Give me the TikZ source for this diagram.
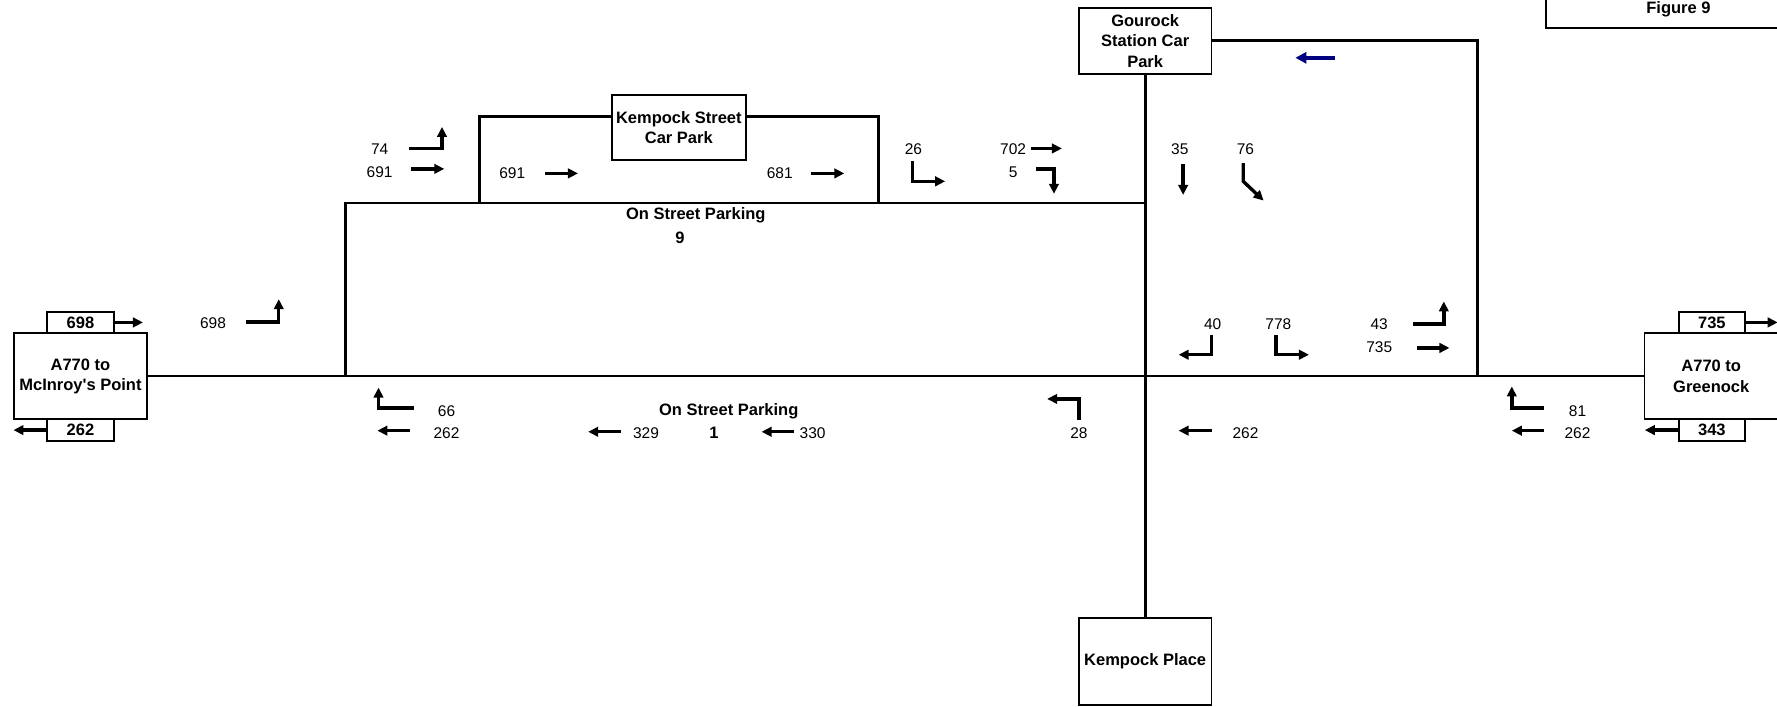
\documentclass[tikz,border=0pt]{standalone}
\usepackage{fontspec}
\setmainfont{Liberation Sans}[Ligatures=TeXOff]
\usetikzlibrary{arrows.meta}
\definecolor{navyarrow}{RGB}{0,0,128}
\begin{document}
\begin{tikzpicture}[x=1.1333pt,y=-1.1333pt,
  road/.style={line width=2.7pt},
  mainroad/.style={line width=2pt},
  box/.style={draw,line width=1.8pt,fill=white,font=\fontsize{16.5}{20.4}\selectfont\bfseries,align=center,inner sep=0pt},
  bigbox/.style={box,minimum width=133.7pt,minimum height=86.1pt},
  smallbox/.style={box,minimum width=66.5pt,minimum height=21.5pt},
  num/.style={font=\fontsize{15.5}{18}\selectfont,inner sep=0pt},
  lbl/.style={font=\fontsize{16.5}{20}\selectfont\bfseries,inner sep=0pt},
  mv/.style={line width=3.4pt,-{Triangle[length=10pt,width=9.5pt]}},
]
\useasboundingbox (0,0) rectangle (1568,623);
\clip (0,0) rectangle (1568,623);

% junction coordinates
\coordinate (jw) at (305,332);
\coordinate (jn) at (305,179);
\coordinate (jc) at (1010,179);
\coordinate (ka) at (423,179);
\coordinate (kb) at (423,103);
\coordinate (kc) at (775,103);
\coordinate (kd) at (775,179);
\coordinate (ga) at (1304,36);
\coordinate (gb) at (1304,332);

% roads
\draw[road] (jw) -- (jn) -- (jc);
\draw[road] (ka) -- (kb) -- (kc) -- (kd);

% boxes
\node[bigbox] (L) at (71,332) {A770 to\\McInroy's Point};
\node[bigbox] (R) at (1510,332) {A770 to\\Greenock};
\draw[mainroad] (L.east) -- (R.west);
\node[smallbox] (Lin) at (71,284.5) {698};
\node[smallbox] (Lout) at (71,379.5) {262};
\node[smallbox] (Rin) at (1510.5,284.5) {735};
\node[smallbox] (Rout) at (1510.5,379.5) {343};
\node[box,minimum width=133.7pt,minimum height=64.6pt] (K) at (599,112.5) {Kempock Street\\Car Park};
\node[box,minimum width=132.6pt,minimum height=65.7pt] (G) at (1010.5,36) {Gourock\\Station Car\\Park};
\node[box,minimum width=132.6pt,minimum height=87.3pt] (P) at (1010.5,583.5) {Kempock Place};
\draw[line width=1.8pt,fill=white] (1364,-10) rectangle (1580,25);
\node[lbl] (fig) at (1481,8) {Figure 9};

% road connectors to boxes
\draw[road] (G.south) -- (P.north);
\draw[road] (G.east) -- (ga) -- (gb);

% entry/exit arrows at boxes
\draw[mv] (Lin.east) -- ++(25,0);
\draw[mv] (Lout.west) -- ++(-29,0);
\draw[mv] (Rin.east) -- ++(28,0);
\draw[mv] (Rout.west) -- ++(-29,0);

% blue arrow
\draw[line width=4pt,navyarrow,-{Triangle[length=11pt,width=11pt]}] (1178,51) -- (1143,51);

% labels and movements
\node[num] (n698) at (188,285) {698};
\draw[mv] (217,284) -- (246,284) -- (246,264);
\node[num] (n74) at (335,132) {74};
\draw[mv] (361,131) -- (390,131) -- (390,112);
\node[num] (n691a) at (335,152) {691};
\draw[mv] (363,149) -- (392,149);
\node[num] (n691b) at (452,153) {691};
\draw[mv] (481,153) -- (510,153);
\node[num] (n681) at (688,153) {681};
\draw[mv] (716,153) -- (745,153);
\node[lbl] (osp9) at (614,190) {On Street Parking};
\node[lbl] (osp9n) at (600,210) {9};
\node[num] (n26) at (806,132) {26};
\draw[mv] (805,142) -- (805,160) -- (834,160);
\node[num] (n702) at (894,132) {702};
\draw[mv] (910,131) -- (937,131);
\node[num] (n5) at (894,152) {5};
\draw[mv] (914,149) -- (930,149) -- (930,171);
\node[num] (n35) at (1041,132) {35};
\draw[mv] (1044,145) -- (1044,172);
\node[num] (n76) at (1099,132) {76};
\draw[mv] (1097,144) -- (1097,160) -- (1115,177);
\node[num] (n40) at (1070,286) {40};
\draw[mv] (1069,296) -- (1069,313) -- (1040,313);
\node[num] (n778) at (1128,286) {778};
\draw[mv] (1126,296) -- (1126,313) -- (1155,313);
\node[num] (n43) at (1217,286) {43};
\draw[mv] (1247,286) -- (1274,286) -- (1274,266);
\node[num] (n735) at (1217,306) {735};
\draw[mv] (1250,307) -- (1279,307);
\node[num] (n66) at (394,363) {66};
\draw[mv] (365,360) -- (334,360) -- (334,342);
\node[num] (n262a) at (394,382) {262};
\draw[mv] (362,380) -- (333,380);
\node[lbl] (osp1) at (643,363) {On Street Parking};
\node[lbl] (osp1n) at (630,382) {1};
\node[num] (n329) at (570,382) {329};
\draw[mv] (548,381) -- (519,381);
\node[num] (n330) at (717,382) {330};
\draw[mv] (701,381) -- (672,381);
\node[num] (n28) at (952,382) {28};
\draw[mv] (952,371) -- (952,352) -- (924,352);
\node[num] (n262b) at (1099,382) {262};
\draw[mv] (1069,380) -- (1040,380);
\node[num] (n81) at (1392,363) {81};
\draw[mv] (1362,360) -- (1334,360) -- (1334,341);
\node[num] (n262c) at (1392,382) {262};
\draw[mv] (1362,380) -- (1334,380);
\end{tikzpicture}
\end{document}
